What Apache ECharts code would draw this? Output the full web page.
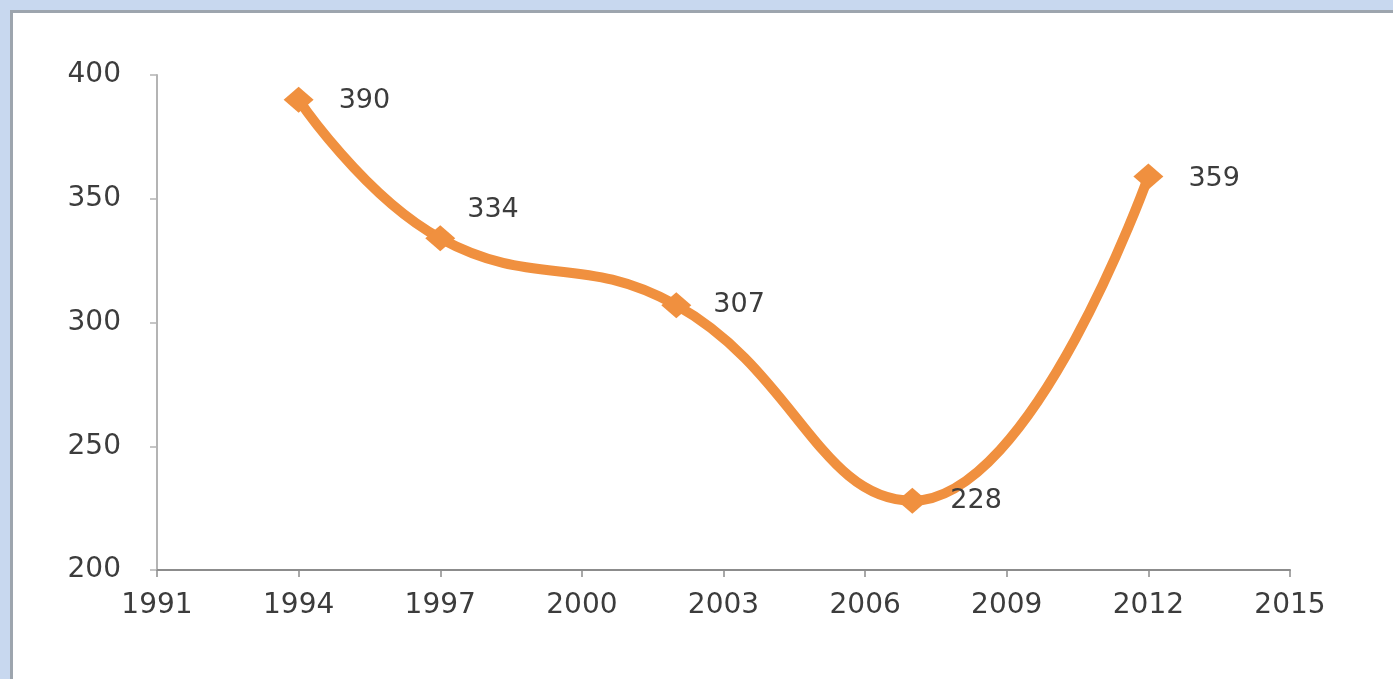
<!DOCTYPE html>
<html>
<head>
<meta charset="utf-8">
<style>
  html, body { margin: 0; padding: 0; width: 1393px; height: 679px; overflow: hidden; background: #c8d8ef; }
  #panel { position: absolute; left: 10px; top: 10px; right: 0; bottom: 0; background: #ffffff;
           border-left: 3px solid #9da5ae; border-top: 3px solid #9da5ae; }
  #chart { position: absolute; left: 0; top: 0; width: 1393px; height: 679px; }
</style>
<script src="https://cdn.jsdelivr.net/npm/echarts@6/dist/echarts.min.js"></script>
</head>
<body>
<div id="panel"></div>
<div id="chart"></div>
<script>
// Survey years and measured values
const years = [1994, 1997, 2002, 2007, 2012];
const values = [390, 334, 307, 228, 359];
// Label placement per point: [dx, dy] relative to the default right-hand position
const labelOffsets = [[0, 1], [-13, -28], [-3, 0], [-2, 0], [0, 3]];

const chart = echarts.init(document.getElementById('chart'), null, { renderer: 'canvas' });

const axisText = { color: '#3c3c3c', fontFamily: 'DejaVu Sans', fontSize: 28 };

chart.setOption({
  animation: false,
  backgroundColor: 'transparent',
  grid: { left: 157, right: 103, top: 75, bottom: 109, containLabel: false },
  xAxis: {
    type: 'value', min: 1991, max: 2015, interval: 3,
    axisLine: { show: true, lineStyle: { color: '#8c8c8c', width: 2 } },
    axisTick: { show: true, length: 7, lineStyle: { color: '#8c8c8c', width: 1.5 } },
    axisLabel: Object.assign({ margin: 22, formatter: v => String(v) }, axisText),
    splitLine: { show: false }
  },
  yAxis: {
    type: 'value', min: 200, max: 400, interval: 50,
    axisLine: { show: true, lineStyle: { color: '#b4b4b4', width: 2 } },
    axisTick: { show: true, length: 7, lineStyle: { color: '#b4b4b4', width: 1.5 } },
    axisLabel: Object.assign({ margin: 36 }, axisText),
    splitLine: { show: false }
  },
  series: [{
    type: 'line',
    smooth: 0.45,
    data: years.map((y, i) => ({
      value: [y, values[i]],
      label: { offset: labelOffsets[i] }
    })),
    symbol: 'diamond',
    symbolSize: [30, 26],
    itemStyle: { color: '#f0903f' },
    lineStyle: { color: '#f0903f', width: 10 },
    label: {
      show: true, position: 'right', distance: 25,
      formatter: p => String(p.value[1]),
      color: '#3c3c3c', fontFamily: 'DejaVu Sans', fontSize: 27
    },
    z: 3
  }]
});
</script>
</body>
</html>
